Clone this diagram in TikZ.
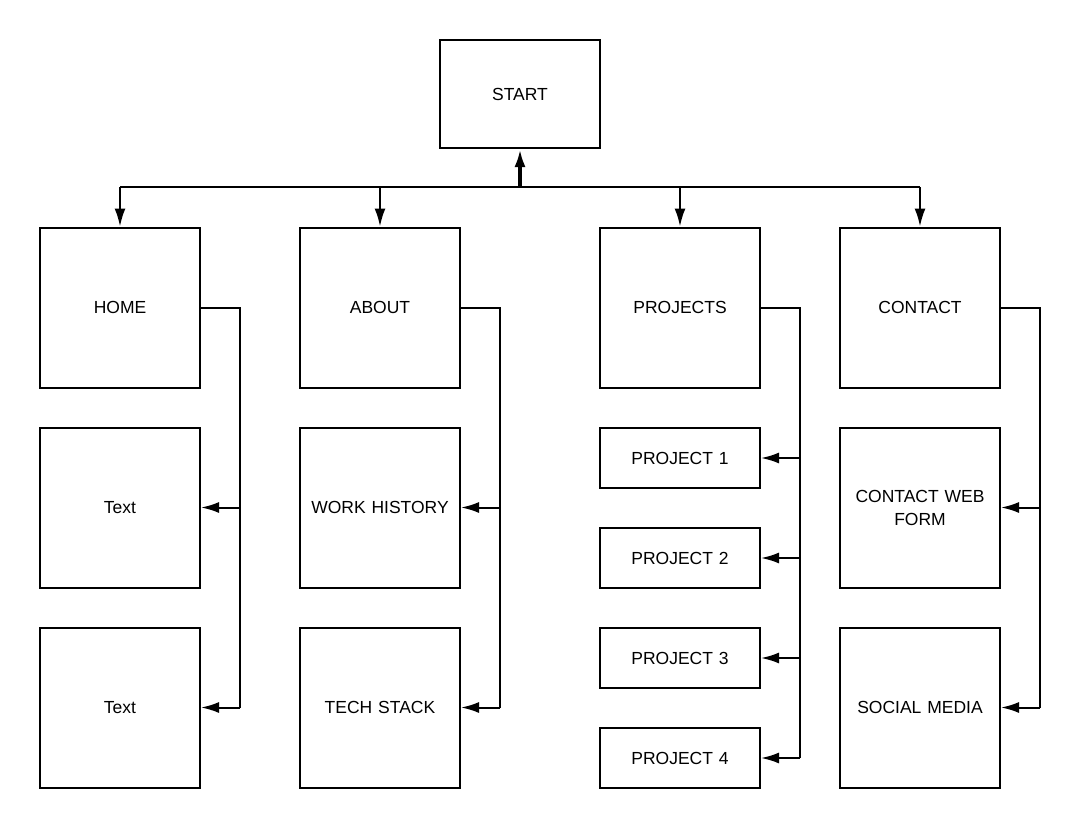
\documentclass[tikz,border=0pt]{standalone}
\usepackage{fontspec}
\setmainfont{Liberation Sans}
\usetikzlibrary{arrows.meta}

\begin{document}
\begin{tikzpicture}[x=1pt, y=-1pt,
  box/.style={draw, line width=2pt, minimum width=160pt, minimum height=160pt,
    align=center, text width=150pt, inner sep=0pt, font=\fontsize{17.5}{23}\selectfont},
  wide/.style={box, minimum height=108pt},
  flat/.style={box, minimum height=60pt},
  wire/.style={line width=2pt},
  arr/.style={line width=2pt, -{Latex[length=18pt, width=11pt]}}]
  \useasboundingbox (0,0) rectangle (1081,828);
  % top
  \node[wide] (start) at (520,94) {START};
  % first row
  \node[box] (home) at (120,307.5) {HOME};
  \node[box] (about) at (380,307.5) {ABOUT};
  \node[box] (projects) at (680,307.5) {PROJECTS};
  \node[box] (contact) at (920,307.5) {CONTACT};
  % second row
  \node[box] (text1) at (120,507.5) {Text};
  \node[box] (work) at (380,507.5) {WORK HISTORY};
  \node[flat] (proj1) at (680,458) {PROJECT 1};
  \node[box] (webform) at (920,507.5) {CONTACT WEB\\FORM};
  % third row
  \node[box] (text2) at (120,707.5) {Text};
  \node[box] (tech) at (380,707.5) {TECH STACK};
  \node[flat] (proj2) at (680,558) {PROJECT 2};
  \node[flat] (proj3) at (680,658) {PROJECT 3};
  \node[flat] (proj4) at (680,758) {PROJECT 4};
  \node[box] (social) at (920,707.5) {SOCIAL MEDIA};
  % buses
  \coordinate (bus) at (520,187);
  \coordinate (hb) at (240,0);
  \coordinate (ab) at (500,0);
  \coordinate (pb) at (800,0);
  \coordinate (cb) at (1040,0);
  \draw[wire] (home.north |- bus) -- (contact.north |- bus);
  \draw[line width=3.5pt, -{Latex[length=18pt, width=11pt]}] (bus) -- (start.south);
  \foreach \n in {home, about, projects, contact}
    \draw[arr] (\n.north |- bus) -- (\n.north);
  % side branches
  \draw[wire] (home.east) -- (hb |- home.east) -- (hb |- text2.east);
  \draw[wire] (about.east) -- (ab |- about.east) -- (ab |- tech.east);
  \draw[wire] (projects.east) -- (pb |- projects.east) -- (pb |- proj4.east);
  \draw[wire] (contact.east) -- (cb |- contact.east) -- (cb |- social.east);
  \foreach \n in {text1, text2}
    \draw[arr] (hb |- \n.east) -- (\n.east);
  \foreach \n in {work, tech}
    \draw[arr] (ab |- \n.east) -- (\n.east);
  \foreach \n in {proj1, proj2, proj3, proj4}
    \draw[arr] (pb |- \n.east) -- (\n.east);
  \foreach \n in {webform, social}
    \draw[arr] (cb |- \n.east) -- (\n.east);
\end{tikzpicture}
\end{document}
